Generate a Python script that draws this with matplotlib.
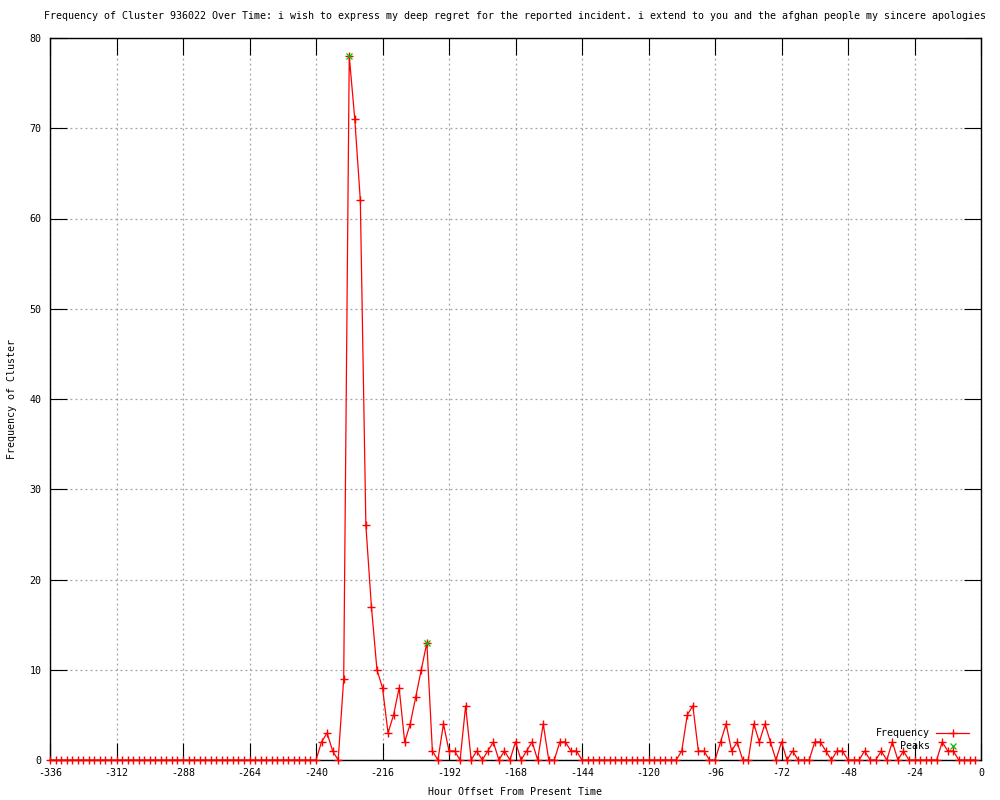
import numpy as np
import matplotlib
matplotlib.use("Agg")
import matplotlib.pyplot as plt

# Datos: frecuencia por bloque de 2 horas, desde -336 hasta -2
horas = np.arange(-336, 0, 2)
frecuencia = [
    0, 0, 0, 0, 0, 0, 0, 0, 0, 0, 0, 0,        # -336 .. -314
    0, 0, 0, 0, 0, 0, 0, 0, 0, 0, 0, 0,        # -312 .. -290
    0, 0, 0, 0, 0, 0, 0, 0, 0, 0, 0, 0,        # -288 .. -266
    0, 0, 0, 0, 0, 0, 0, 0, 0, 0, 0, 0,        # -264 .. -242
    0, 2, 3, 1, 0, 9, 78, 71, 62, 26, 17, 10,  # -240 .. -218
    8, 3, 5, 8, 2, 4, 7, 10, 13, 1, 0, 4,      # -216 .. -194
    1, 1, 0, 6, 0, 1, 0, 1, 2, 0, 1, 0,        # -192 .. -170
    2, 0, 1, 2, 0, 4, 0, 0, 2, 2, 1, 1,        # -168 .. -146
    0, 0, 0, 0, 0, 0, 0, 0, 0, 0, 0, 0,        # -144 .. -122
    0, 0, 0, 0, 0, 0, 1, 5, 6, 1, 1, 0,        # -120 .. -98
    0, 2, 4, 1, 2, 0, 0, 4, 2, 4, 2, 0,        # -96 .. -74
    2, 0, 1, 0, 0, 0, 2, 2, 1, 0, 1, 1,        # -72 .. -50
    0, 0, 0, 1, 0, 0, 1, 0, 2, 0, 1, 0,        # -48 .. -26
    0, 0, 0, 0, 0, 2, 1, 1, 0, 0, 0, 0,        # -24 .. -2
]
picos_x = [-228, -200]
picos_y = [78, 13]

titulo = ("Frequency of Cluster 936022 Over Time: i wish to express my deep regret "
          "for the reported incident. i extend to you and the afghan people my sincere apologies")

plt.rcParams['font.family'] = ['DejaVu Sans Mono']
plt.rcParams['axes.unicode_minus'] = False
fs = 7.2

fig = plt.figure(figsize=(10, 8), dpi=100)
ax = fig.add_axes([0.05, 0.05, 0.931, 0.9025])

ax.plot(horas, frecuencia, color='red', lw=0.9, marker='+', ms=6, mew=1,
        label='Frequency', clip_on=False, zorder=3)
ax.plot(picos_x, picos_y, ls='none', color='#00c000', marker='x', ms=5, mew=0.9,
        label='Peaks', clip_on=False, zorder=4)

ax.set_xlim(-336, 0)
ax.set_ylim(0, 80)
ax.set_xticks(np.arange(-336, 1, 24))
ax.set_yticks(np.arange(0, 81, 10))
ax.tick_params(direction='in', length=12, width=0.8, labelsize=fs,
               top=True, right=True, pad=6)
ax.grid(True, color='#a0a0a0', linestyle=(0, (1.5, 2.5)), lw=0.9)
for s in ax.spines.values():
    s.set_linewidth(1)
    s.set_zorder(2)

ax.set_title(titulo, fontsize=fs, pad=14)
ax.set_xlabel('Hour Offset From Present Time', fontsize=fs, labelpad=6)
ax.set_ylabel('Frequency of Cluster', fontsize=fs, labelpad=9)

leg = ax.legend(loc='lower right', bbox_to_anchor=(0.997, 0.0), frameon=False,
                markerfirst=False, fontsize=fs, handlelength=3.3,
                handletextpad=0.6, labelspacing=0.25, borderaxespad=0.5)
for t in leg.get_texts():
    t.set_ha('right')

fig.savefig('out.png', dpi=100)
